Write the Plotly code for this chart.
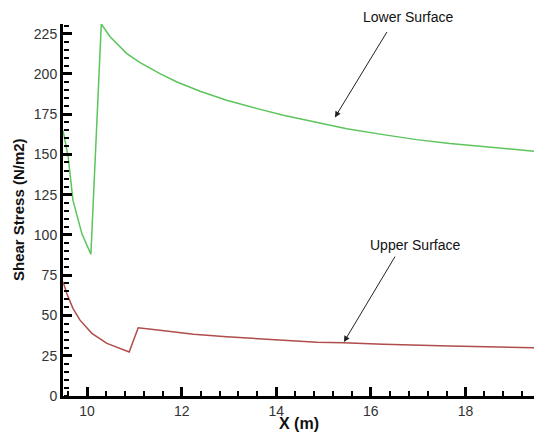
import plotly.graph_objects as go

# Lower surface (green)
lower_x = [9.49, 9.60, 9.70, 9.89, 10.08, 10.18, 10.30, 10.49, 10.84, 11.12, 11.54, 11.90,
           12.39, 12.95, 13.45, 13.66, 14.15, 14.86, 15.49, 16.26, 16.97, 17.67, 18.38, 19.45]
lower_y = [165, 148.5, 121.6, 100.7, 88, 152.6, 231, 222.9, 212.6, 207, 200.2, 195,
           189.2, 183.6, 179.5, 178, 174.3, 169.8, 166, 162.3, 159.2, 156.8, 154.7, 152]

# Upper surface (red)
upper_x = [9.49, 9.57, 9.70, 9.85, 10.10, 10.42, 10.89, 11.08, 11.54, 12.25, 12.95, 13.45,
           13.66, 14.86, 15.42, 16.26, 17.67, 19.45]
upper_y = [71, 63.7, 54.4, 47.1, 38.9, 32.7, 27.3, 42.4, 40.9, 38.3, 36.8, 35.8,
           35.4, 33.3, 33.1, 32.1, 31.0, 30.0]

x_range = [9.49, 19.45]
y_range = [0, 231]

fig = go.Figure()
fig.add_trace(go.Scatter(x=lower_x, y=lower_y, mode="lines",
                         line=dict(color="#5cc45c", width=1.5), showlegend=False))
fig.add_trace(go.Scatter(x=upper_x, y=upper_y, mode="lines",
                         line=dict(color="#b04c4c", width=1.5), showlegend=False))
# invisible helper trace so the minor-tick overlay axes are drawn
fig.add_trace(go.Scatter(x=upper_x, y=upper_y, mode="lines", xaxis="x2", yaxis="y2",
                         line=dict(color="rgba(0,0,0,0)", width=0), showlegend=False,
                         hoverinfo="skip"))

font_family = "Liberation Sans, Arial, sans-serif"

fig.update_layout(
    width=534, height=434,
    margin=dict(l=63, r=0, t=24, b=38),
    plot_bgcolor="white", paper_bgcolor="white",
    font=dict(family=font_family, color="#333", size=14),
    xaxis=dict(range=x_range, tick0=10, dtick=2, tickmode="linear",
               ticks="inside", ticklen=9,
               tickwidth=3, tickcolor="#000000", showline=True, linecolor="black",
               linewidth=3, showgrid=False, zeroline=False,
               tickfont=dict(size=14, color="#333")),
    yaxis=dict(range=y_range, tick0=0, dtick=25, tickmode="linear",
               ticks="inside", ticklen=9,
               tickwidth=3, tickcolor="#000000", showline=True, linecolor="black",
               linewidth=3, showgrid=False, zeroline=False,
               tickfont=dict(size=14, color="#333")),
    xaxis2=dict(range=x_range, tick0=10, dtick=0.4, tickmode="linear", overlaying="x",
                side="top", anchor="free", position=0, ticks="outside", ticklen=5,
                tickwidth=2, tickcolor="#000000", showticklabels=False, showline=False,
                showgrid=False, zeroline=False),
    yaxis2=dict(range=y_range, tick0=0, dtick=5, tickmode="linear", overlaying="y",
                side="right", anchor="free", position=0, ticks="outside", ticklen=5,
                tickwidth=2, tickcolor="#000000", showticklabels=False, showline=False,
                showgrid=False, zeroline=False),
    annotations=[
        dict(x=15.24, y=173, ax=16.36, ay=227, xref="x", yref="y", axref="x", ayref="y",
             text="", showarrow=True, arrowhead=2, arrowsize=1.2, arrowwidth=1,
             arrowcolor="#222"),
        dict(x=16.79, y=1.019, xref="x", yref="paper", text="Lower Surface", showarrow=False,
             font=dict(size=14, color="#111"), yanchor="middle"),
        dict(x=15.43, y=33.5, ax=16.53, ay=87.5, xref="x", yref="y", axref="x", ayref="y",
             text="", showarrow=True, arrowhead=2, arrowsize=1.2, arrowwidth=1,
             arrowcolor="#222"),
        dict(x=16.93, y=94, xref="x", yref="y", text="Upper Surface", showarrow=False,
             font=dict(size=14, color="#111"), yanchor="middle"),
        dict(x=0.5, y=0, xref="paper", yref="paper",
             text="<b>X (m)</b>", showarrow=False, font=dict(size=16, color="#111"),
             yshift=-17, yanchor="top"),
        dict(x=0, y=0.5, xref="paper", yref="paper", text="<b>Shear Stress (N/m2)</b>",
             showarrow=False, textangle=-90, font=dict(size=15, color="#111"),
             xshift=-45, xanchor="center"),
    ],
)
fig.write_html("out.html")
